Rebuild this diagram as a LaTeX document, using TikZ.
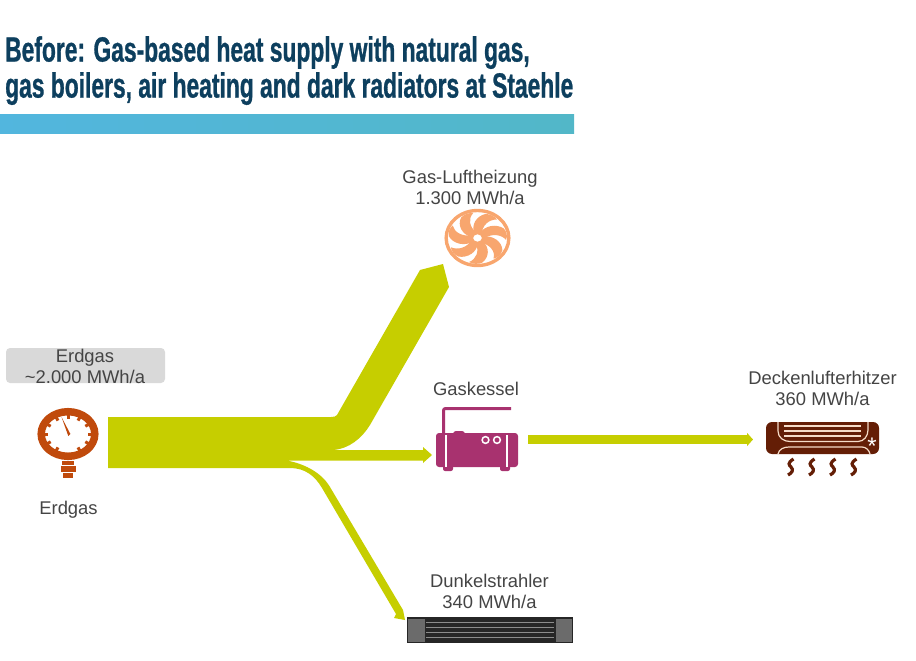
\documentclass[tikz,border=0pt]{standalone}
\usepackage{fontspec}
\setmainfont{Liberation Sans}
\newfontfamily\titlefont[FakeStretch=0.652,FakeBold=0.8]{Liberation Sans Bold}
\usetikzlibrary{arrows.meta}
\definecolor{titleblue}{HTML}{0D3F5E}
\definecolor{labelgray}{HTML}{444444}
\definecolor{flowgreen}{HTML}{C6CE00}
\definecolor{gaugered}{HTML}{C04A0C}
\definecolor{fanorange}{HTML}{F8A66E}
\definecolor{kesselpink}{HTML}{A8326F}
\definecolor{deckebrown}{HTML}{641E06}
\definecolor{deckeline}{HTML}{F6DCC8}
\definecolor{barleft}{HTML}{52B6DE}
\definecolor{barright}{HTML}{52B7C8}
\tikzset{
  gauge/.pic={
    \draw[gaugered,line width=7.5] (0,0) circle [x radius=26.8, y radius=22.3];
    \foreach \a in {-60,-30,...,240}
      \draw[gaugered,line width=3] ({25*cos(\a)},{-20.5*sin(\a)}) -- ({20*cos(\a)},{-15.5*sin(\a)});
    \fill[gaugered] (-6.5,-17) -- (2.4,0) -- (0.3,2) -- cycle;
    \fill[gaugered] (-6,27) rectangle (6,31);
    \fill[gaugered] (-7.5,32) rectangle (7.5,38);
    \fill[gaugered] (-5,39) rectangle (5,43.5);
  },
  fan/.pic={
    \begin{scope}[xscale=1.14]
      \draw[fanorange,line width=3.4] (0,0) circle [radius=27.5];
      \foreach \a in {0,51.4,...,350}
        \fill[fanorange,rotate=\a] (-2.5,-4) .. controls (-6,-13) and (-1,-22) .. (7,-24)
          .. controls (11,-24) and (15,-22) .. (17,-18.5)
          .. controls (10,-18.5) and (4,-13) .. (3.5,-3) -- cycle;
      \draw[fanorange,fill=white,line width=2.4] (0,0) circle [radius=5];
    \end{scope}
  },
  kessel/.pic={
    \draw[kesselpink,line width=3,rounded corners=2] (7.5,2) -- (7.5,-24.5) -- (75,-24.5);
    \fill[kesselpink,rounded corners=3] (0,0) rectangle (82,34);
    \fill[kesselpink,rounded corners=3] (17,-2) rectangle (29,4);
    \fill[kesselpink,rounded corners=2] (7,30) rectangle (17,38);
    \fill[kesselpink,rounded corners=2] (64,30) rectangle (74,38);
    \draw[white,line width=1.6] (10,2) -- (10,34);
    \draw[white,line width=1.6] (71,2) -- (71,34);
    \draw[white,line width=1.5] (49.5,7) circle [radius=3.4];
    \draw[white,line width=1.5] (61,7) circle [radius=3.4];
  },
  decke/.pic={
    \fill[deckebrown,rounded corners=6] (0,0) rectangle (113,32);
    \foreach \y in {4,9,14}
      \draw[deckeline,line width=1.7] (18,\y) -- (95,\y);
    \draw[deckeline,line width=1.2] (12,0) -- (12,9) .. controls (12,16) and (18,19.5) .. (24,19.5)
      -- (92,19.5) .. controls (98,19.5) and (102,14) .. (102,8) -- (102,0);
    \draw[deckeline,line width=1.2] (12,32) .. controls (13,27) and (18,25) .. (23,25)
      -- (96,25) .. controls (100,25) and (103,28) .. (104,32);
    \node[white,inner sep=0pt,font=\fontsize{24}{24}\selectfont] (star) at (106,24.5) {*};
    \foreach \x in {25,46,67,88}
      \draw[deckebrown,line width=3.2] (\x+2.5,37) .. controls (\x-4,41) and (\x-2,43) .. (\x,45)
        .. controls (\x+3,48) and (\x+1,51) .. (\x-3,53);
  },
  strahler/.pic={
    \fill[black!85] (0,0) rectangle (166,26);
    \foreach \y in {5,10,15,20}
      \draw[black!45,line width=0.9] (19,\y) -- (147,\y);
    \fill[black!58] (1,1.5) rectangle (17.5,24.5);
    \fill[black!58] (148.5,1.5) rectangle (165,24.5);
  }
}

\begin{document}
\begin{tikzpicture} [x=1pt,y=-1pt,
                     label/.style={font=\fontsize{18.4}{21}\selectfont,
                                   text=labelgray,align=center,inner sep=0pt}]

\useasboundingbox (0,0) rectangle (916,661);

% title
\node[font=\titlefont\fontsize{35}{36}\selectfont,text=titleblue,align=left,
      anchor=north west,inner sep=0pt] (title) at (5,36)
  {Before: Gas-based heat supply with natural gas,\\
   gas boilers, air heating and dark radiators at Staehle};
\fill[left color=barleft,right color=barright] (0,114) rectangle (574,133);

% flows
\fill[flowgreen] (108,417) -- (331,417) .. controls (334,417) and (336,416.5) .. (337,415)
  -- (420,270) -- (443,264) -- (449,287) -- (370,425)
  .. controls (362,438) and (349,449) .. (333,450)
  -- (423,450) -- (423,447) -- (432,455) -- (423,463) -- (423,460.5) -- (287,460.5)
  .. controls (300,463) and (320,470) .. (330,487)
  -- (403,610) -- (405,620) -- (394,618) -- (396,614) -- (322,488)
  .. controls (315,476) and (305,468) .. (290,468) -- (108,468) -- cycle;

\coordinate (kesselout) at (528,439.5);
\coordinate (deckein) at (753,439.5);
\draw[flowgreen,line width=9,-{Triangle[length=6pt,width=13pt]}] (kesselout) -- (deckein);

% icons
\pic at (68,434) {gauge};
\pic at (477.5,238) {fan};
\pic at (436,433) {kessel};
\pic at (766,422) {decke};
\pic at (407,617) {strahler};

% labels
\node[fill=black!15,rounded corners=4,minimum width=159,minimum height=35,inner sep=0pt] (erdgasbox) at (85.5,365.5) {};
\node[label] (erdgas) at (85,366) {Erdgas\\\textasciitilde 2.000 MWh/a};
\node[label] (erdgastwo) at (68.5,510) {Erdgas};
\node[label] (luft) at (470,187.5) {Gas-Luftheizung\\1.300 MWh/a};
\node[label] (gaskessel) at (476,389) {Gaskessel};
\node[label] (lufterhitzer) at (822.5,388.5) {Deckenlufterhitzer\\360 MWh/a};
\node[label] (dunkel) at (489.5,591.5) {Dunkelstrahler\\340 MWh/a};

\end{tikzpicture}
\end{document}
